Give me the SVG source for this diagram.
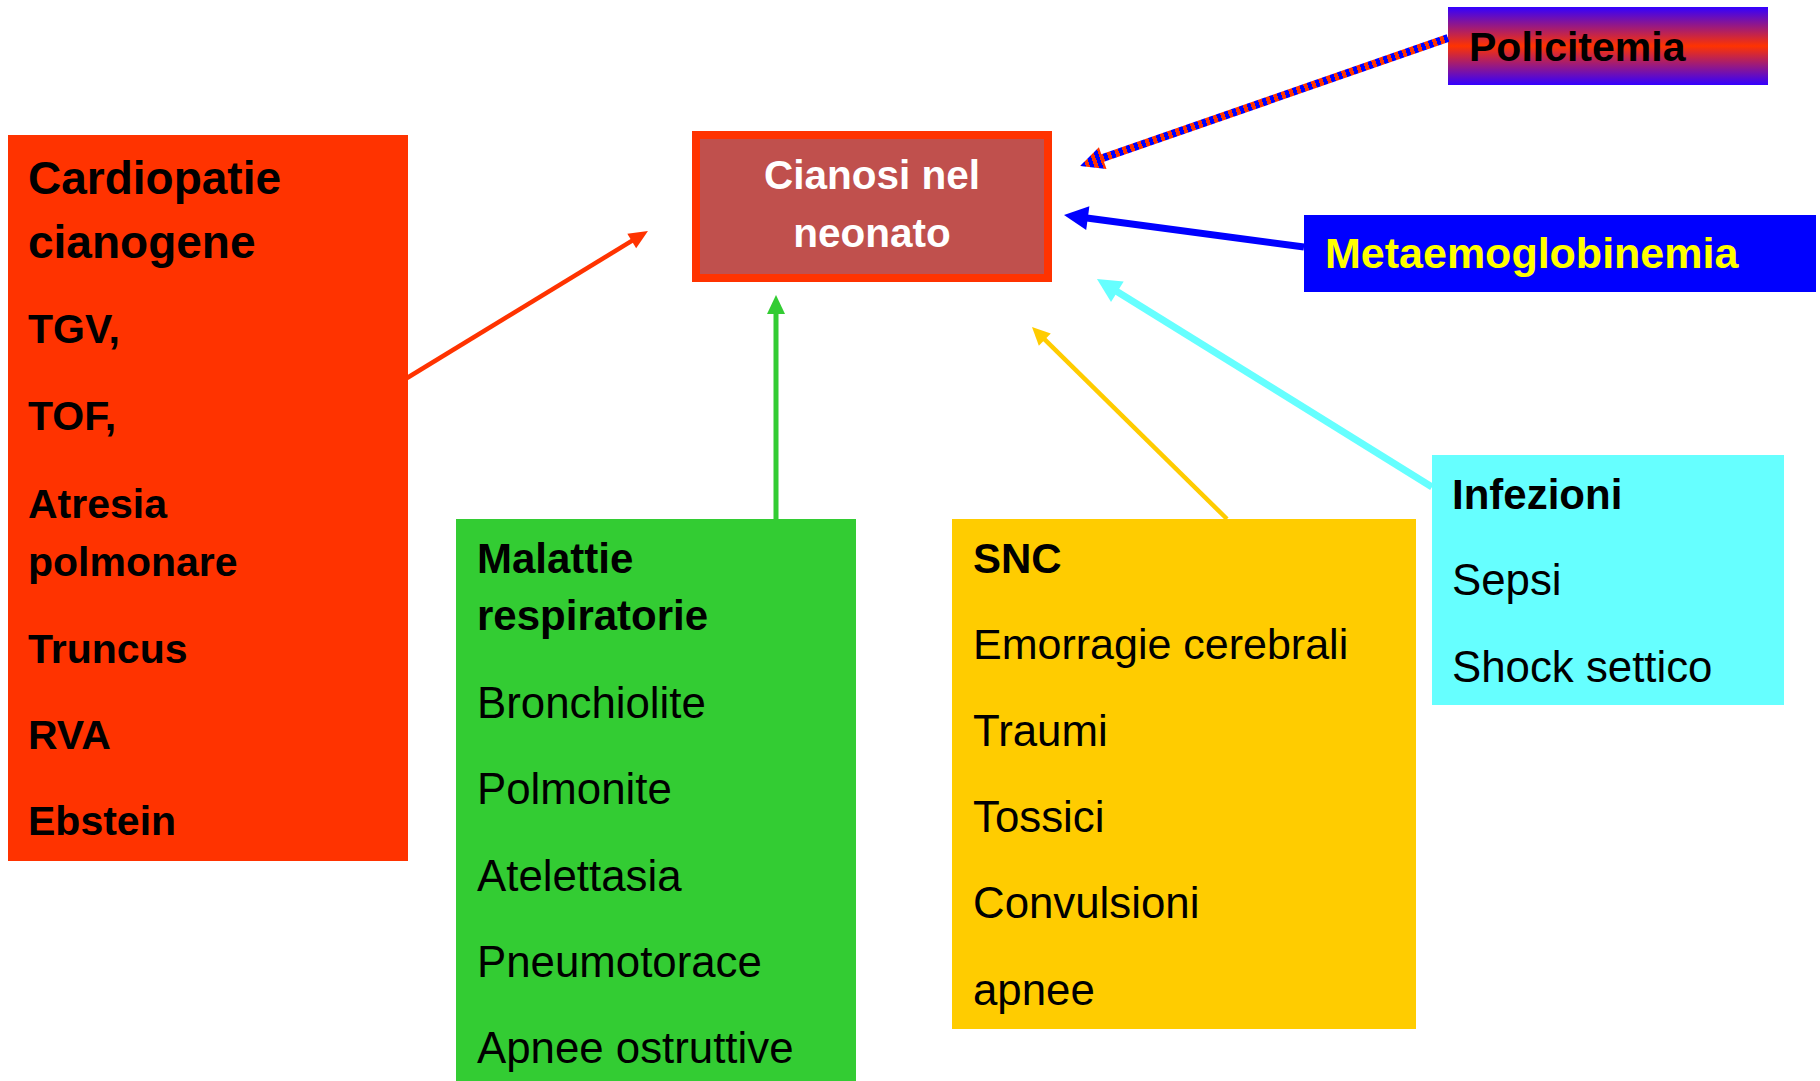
<svg xmlns="http://www.w3.org/2000/svg" width="1820" height="1081" viewBox="0 0 1820 1081">
  <style>
    text { font-family: "Liberation Sans", Arial, sans-serif; fill: #000000; }
    .b { font-weight: bold; font-size: 42px; }
    .r { font-weight: normal; font-size: 43.8px; }
    .h { font-weight: bold; font-size: 46px; }
    .lb { font-weight: bold; font-size: 41px; }
    .ctr { font-weight: bold; font-size: 40.5px; fill: #FFFFFF; text-anchor: middle; }
    .conn { fill: none; stroke-linecap: butt; }
  </style>
  <defs>
    <linearGradient id="polGrad" x1="0" y1="0" x2="0" y2="1">
      <stop offset="0" stop-color="#3300FF"/>
      <stop offset="0.5" stop-color="#FF3300"/>
      <stop offset="1" stop-color="#3300FF"/>
    </linearGradient>
    <linearGradient id="stripe" gradientUnits="userSpaceOnUse" spreadMethod="repeat" x1="1448" y1="38" x2="1440.44" y2="40.63">
      <stop offset="0" stop-color="#0000FF"/>
      <stop offset="0.5" stop-color="#0000FF"/>
      <stop offset="0.5" stop-color="#FF3300"/>
      <stop offset="1" stop-color="#FF3300"/>
    </linearGradient>
    <marker id="mRed" markerUnits="userSpaceOnUse" orient="auto" refX="0" refY="0" markerWidth="30" markerHeight="30" overflow="visible">
      <path d="M-1,-8.5 L18,0 L-1,8.5 Z" fill="#FF3300"/>
    </marker>
    <marker id="mGreen" markerUnits="userSpaceOnUse" orient="auto" refX="0" refY="0" markerWidth="30" markerHeight="30" overflow="visible">
      <path d="M-1,-9 L18,0 L-1,9 Z" fill="#33CC33"/>
    </marker>
    <marker id="mYellow" markerUnits="userSpaceOnUse" orient="auto" refX="0" refY="0" markerWidth="30" markerHeight="30" overflow="visible">
      <path d="M-1,-8.5 L17,0 L-1,8.5 Z" fill="#FFCC00"/>
    </marker>
    <marker id="mCyan" markerUnits="userSpaceOnUse" orient="auto" refX="0" refY="0" markerWidth="30" markerHeight="30" overflow="visible">
      <path d="M-1,-12 L23,0 L-1,12 Z" fill="#66FFFF"/>
    </marker>
    <marker id="mBlue" markerUnits="userSpaceOnUse" orient="auto" refX="0" refY="0" markerWidth="30" markerHeight="30" overflow="visible">
      <path d="M-1,-12 L23,0 L-1,12 Z" fill="#0000FF"/>
    </marker>
  </defs>

  <rect x="0" y="0" width="1820" height="1081" fill="#FFFFFF"/>

  <g id="node-cardiopatie">
    <rect x="8" y="135" width="400" height="726" fill="#FF3300"/>
    <text class="h" x="28" y="194">Cardiopatie</text>
    <text class="h" x="28" y="258">cianogene</text>
    <text class="lb" x="28" y="343">TGV,</text>
    <text class="lb" x="28" y="430">TOF,</text>
    <text class="lb" x="28" y="518">Atresia</text>
    <text class="lb" x="28" y="576">polmonare</text>
    <text class="lb" x="28" y="663">Truncus</text>
    <text class="lb" x="28" y="749">RVA</text>
    <text class="lb" x="28" y="835">Ebstein</text>
  </g>

  <g id="node-cianosi">
    <rect x="696" y="135" width="352" height="143" fill="#C0504D" stroke="#FF3300" stroke-width="8"/>
    <text class="ctr" x="872" y="189">Cianosi nel</text>
    <text class="ctr" x="872" y="247">neonato</text>
  </g>

  <g id="node-policitemia">
    <rect x="1448" y="7" width="320" height="78" fill="url(#polGrad)"/>
    <text class="b" x="1469" y="61" style="font-size:41px">Policitemia</text>
  </g>

  <g id="node-metaemoglobinemia">
    <rect x="1304" y="215" width="512" height="77" fill="#0000FF"/>
    <text class="b" x="1325" y="268" style="fill:#FFFF00;font-size:43px">Metaemoglobinemia</text>
  </g>

  <g id="node-respiratorie">
    <rect x="456" y="519" width="400" height="562" fill="#33CC33"/>
    <text class="b" x="477" y="573">Malattie</text>
    <text class="b" x="477" y="630">respiratorie</text>
    <text class="r" x="477" y="718">Bronchiolite</text>
    <text class="r" x="477" y="804">Polmonite</text>
    <text class="r" x="477" y="891">Atelettasia</text>
    <text class="r" x="477" y="977">Pneumotorace</text>
    <text class="r" x="477" y="1063">Apnee ostruttive</text>
  </g>

  <g id="node-snc">
    <rect x="952" y="519" width="464" height="510" fill="#FFCC00"/>
    <text class="b" x="973" y="573">SNC</text>
    <text class="r" x="973" y="659" style="font-size:43px">Emorragie cerebrali</text>
    <text class="r" x="973" y="746">Traumi</text>
    <text class="r" x="973" y="832">Tossici</text>
    <text class="r" x="973" y="918">Convulsioni</text>
    <text class="r" x="973" y="1005">apnee</text>
  </g>

  <g id="node-infezioni">
    <rect x="1432" y="455" width="352" height="250" fill="#66FFFF"/>
    <text class="b" x="1452" y="509">Infezioni</text>
    <text class="r" x="1452" y="595">Sepsi</text>
    <text class="r" x="1452" y="682">Shock settico</text>
  </g>

  <g id="connectors">
    <line class="conn" x1="407" y1="378" x2="632.6" y2="240.4" stroke="#FF3300" stroke-width="4.5" marker-end="url(#mRed)"/>
    <line class="conn" x1="776" y1="519" x2="776" y2="313" stroke="#33CC33" stroke-width="5" marker-end="url(#mGreen)"/>
    <line class="conn" x1="1227" y1="519" x2="1044.1" y2="338.9" stroke="#FFCC00" stroke-width="4.5" marker-end="url(#mYellow)"/>
    <line class="conn" x1="1432" y1="487" x2="1116.5" y2="291.2" stroke="#66FFFF" stroke-width="7" marker-end="url(#mCyan)"/>
    <line class="conn" x1="1304" y1="247" x2="1086.8" y2="218" stroke="#0000FF" stroke-width="7" marker-end="url(#mBlue)"/>
    <line class="conn" x1="1448" y1="38" x2="1102" y2="158.3" stroke="url(#stripe)" stroke-width="8"/>
    <polygon points="1080,166 1106.5,169 1098.9,147.2" fill="url(#stripe)"/>
  </g>
</svg>
